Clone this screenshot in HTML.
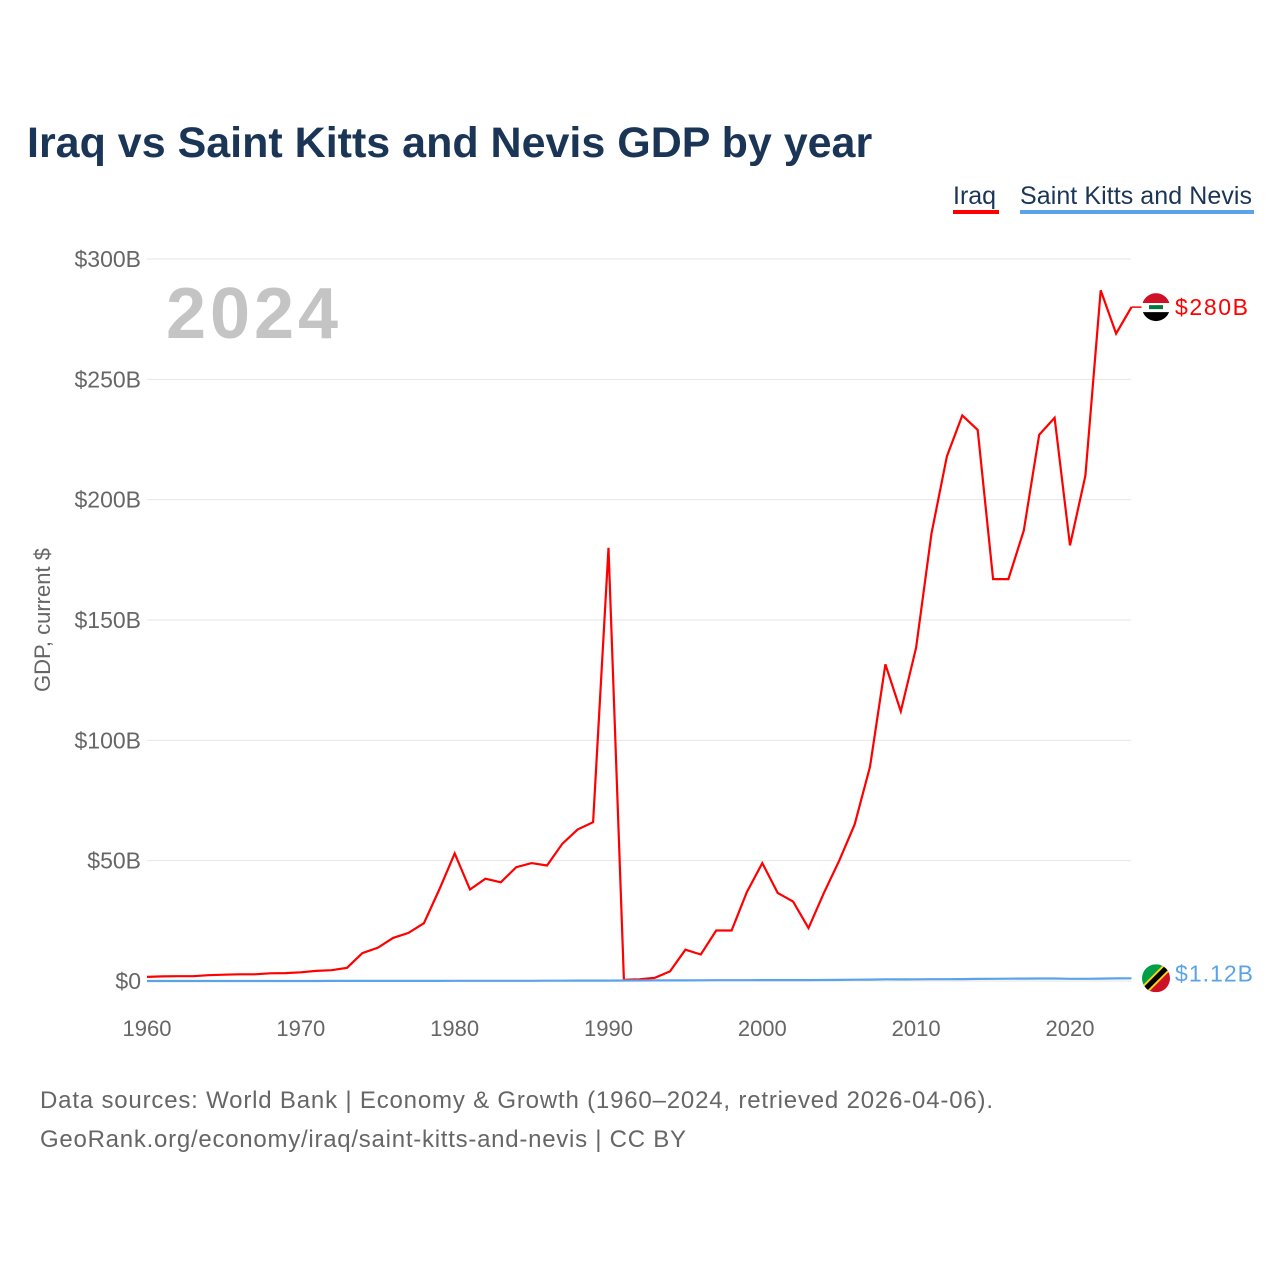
<!DOCTYPE html>
<html><head><meta charset="utf-8"><style>
body{margin:0;background:#fff;font-family:"Liberation Sans",sans-serif;}
#wrap{position:relative;width:1280px;height:1280px;overflow:hidden;}
</style></head><body>
<div id="wrap">
<svg id="chart" width="1280" height="1280" xmlns="http://www.w3.org/2000/svg">
<text x="27" y="157" font-size="43" font-weight="bold" fill="#1b3556">Iraq vs Saint Kitts and Nevis GDP by year</text>
<g>
<text x="953" y="204" font-size="25" fill="#1b3556">Iraq</text>
<rect x="953" y="210" width="46" height="4" fill="#ff0000"/>
<text x="1020" y="204" font-size="25" fill="#1b3556" textLength="232">Saint Kitts and Nevis</text>
<rect x="1020" y="210" width="234" height="4" fill="#5ba3e8"/>
</g>
<text x="166" y="338" font-size="72" font-weight="bold" fill="#c4c4c4" textLength="172">2024</text>
<text transform="translate(50,620) rotate(-90)" text-anchor="middle" font-size="22" fill="#666">GDP, current $</text>
<g id="grid"></g><g id="yt"></g><g id="xt"></g><g id="series"></g>
<text x="40" y="1108" font-size="24" fill="#666" textLength="953">Data sources: World Bank | Economy &amp; Growth (1960–2024, retrieved 2026-04-06).</text>
<text x="40" y="1147" font-size="24" fill="#666" textLength="646">GeoRank.org/economy/iraq/saint-kitts-and-nevis | CC BY</text>
</svg>
</div>
<script>
const years = Array.from({length:65},(_,i)=>1960+i);
const iraq = [1.7,1.9,2.0,2.0,2.4,2.6,2.8,2.8,3.2,3.3,3.6,4.2,4.5,5.5,11.6,13.8,17.9,20,24,38,53,38,42.5,41,47.3,49,48,57,63,66,180,0.5,0.7,1.3,4,13,11,21,21,37,49,36.6,33,22,36.6,50,65,89,131.6,112,138.5,186,218,235,229,167,167,187.2,227,234,181,210,287,269,280];
const skn = [0.01,0.01,0.01,0.01,0.01,0.01,0.01,0.02,0.02,0.02,0.02,0.02,0.03,0.03,0.03,0.03,0.04,0.04,0.05,0.06,0.07,0.08,0.08,0.09,0.1,0.1,0.12,0.14,0.16,0.17,0.18,0.2,0.21,0.23,0.25,0.27,0.29,0.32,0.33,0.35,0.37,0.38,0.38,0.39,0.42,0.47,0.54,0.6,0.7,0.68,0.7,0.75,0.73,0.8,0.86,0.9,0.95,0.98,1.02,1.05,0.9,0.9,1.0,1.08,1.12];
const yTicks = [0,50,100,150,200,250,300];
const yLabels = ["$0","$50B","$100B","$150B","$200B","$250B","$300B"];
const xTicks = [1960,1970,1980,1990,2000,2010,2020];
const X = y => 147 + (y-1960)*15.383;
const Y = v => 981 - v*2.4067;
const NS="http://www.w3.org/2000/svg";
function mk(tag,attrs,parent,txt){const e=document.createElementNS(NS,tag);for(const k in attrs)e.setAttribute(k,attrs[k]);if(txt!==undefined)e.textContent=txt;parent.appendChild(e);return e;}
const grid=document.getElementById('grid'),yt=document.getElementById('yt'),xt=document.getElementById('xt'),ser=document.getElementById('series');
yTicks.forEach((t,i)=>{
 const l=mk('line',{x1:147,x2:1131,y1:Y(t),y2:Y(t),stroke:'#e6e6e6','stroke-width':1},grid);
 
 
 const tx=mk('text',{x:141,y:Y(t)+8,'text-anchor':'end','font-size':23,fill:'#666'},yt,yLabels[i]);
 
 
});
xTicks.forEach(t=>{
 const tx=mk('text',{x:X(t),y:1036,'text-anchor':'middle','font-size':22,fill:'#666'},xt,String(t));
 
 
});
function line(data){return data.map((v,i)=>(i?'L':'M')+X(years[i]).toFixed(1)+','+Y(v).toFixed(1)).join('');}
const p1=mk('path',{d:line(iraq),fill:'none',stroke:'#ff0000','stroke-width':2.2},ser);


const p2=mk('path',{d:line(skn),fill:'none',stroke:'#5ba3e8','stroke-width':2.2},ser);


const ix=X(2024), iy=Y(iraq[64]);
mk('line',{x1:ix,x2:ix+10,y1:iy,y2:iy,stroke:'#ff0000','stroke-width':1.5},ser);
const f1=mk('g',{},ser);


mk('clipPath',{id:'c1'},f1);
mk('circle',{cx:1156,cy:iy,r:14},f1.lastChild);
const g1=mk('g',{'clip-path':'url(#c1)'},f1);
mk('rect',{x:1142,y:iy-14,width:28,height:10,fill:'#ce1126'},g1);
mk('rect',{x:1142,y:iy-4,width:28,height:9,fill:'#fff'},g1);
mk('rect',{x:1142,y:iy+5,width:28,height:10,fill:'#000'},g1);
mk('rect',{x:1149,y:iy-2,width:14,height:4,fill:'#007a3d'},g1);
const t1=mk('text',{x:1175,y:iy+8,'font-size':23,fill:'#ff0000',textLength:73},ser,'$280B');


const sy=Y(skn[64]);
const f2=mk('g',{},ser);


mk('clipPath',{id:'c2'},f2);
mk('circle',{cx:1156,cy:sy,r:14},f2.lastChild);
const g2=mk('g',{'clip-path':'url(#c2)'},f2);
mk('polygon',{points:`1142,${sy-14} 1170,${sy-14} 1142,${sy+14}`,fill:'#009e49'},g2);
mk('polygon',{points:`1170,${sy-14} 1170,${sy+14} 1142,${sy+14}`,fill:'#ce1126'},g2);
mk('line',{x1:1142,y1:sy+14,x2:1170,y2:sy-14,stroke:'#fcd116','stroke-width':9},g2);
mk('line',{x1:1142,y1:sy+14,x2:1170,y2:sy-14,stroke:'#000','stroke-width':5},g2);
const t2=mk('text',{x:1175,y:sy+3,'font-size':23,fill:'#5ba3e8',textLength:78},ser,'$1.12B');


</script>
</body></html>
